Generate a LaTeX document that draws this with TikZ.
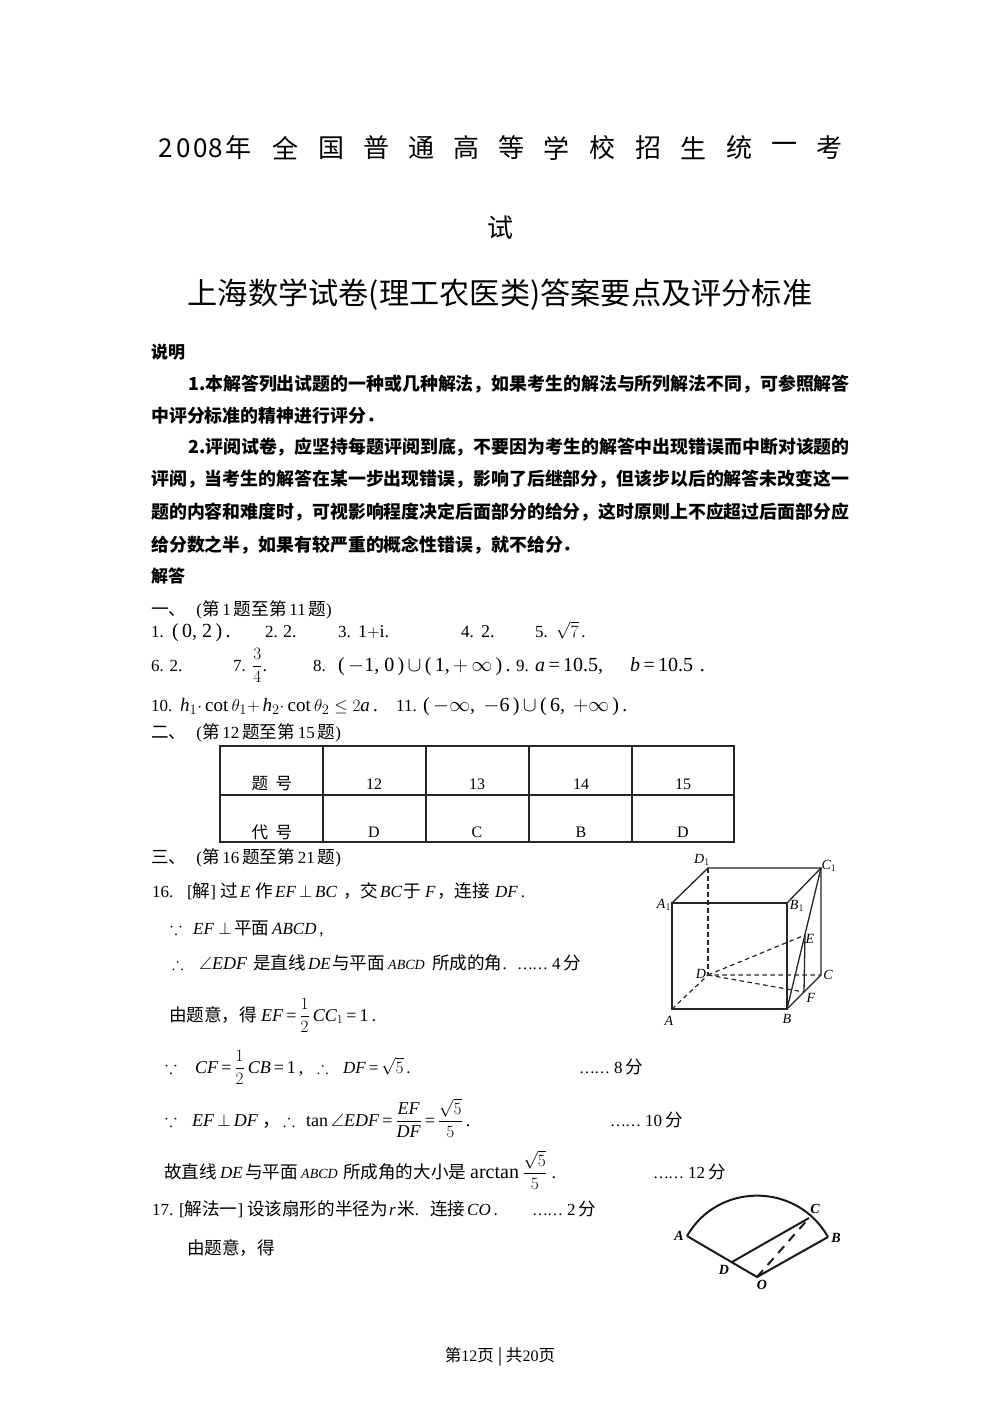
\documentclass[tikz,border=0pt]{standalone}
\usepackage{amsmath,amssymb}
\usepackage{fontspec}
\setmainfont{Liberation Serif}
\newfontfamily\cjk{Noto Sans CJK SC}
\newfontfamily\cjkbody[Scale=1.035]{Noto Sans CJK SC}
\usetikzlibrary{calc,positioning}
\newcommand{\zh}[1]{{\cjkbody #1}}
\newcommand{\mi}[1]{\textit{#1}}
\newcommand{\szb}{\fontsize{18}{20}\selectfont}
\newcommand{\szc}{\fontsize{20}{22}\selectfont}
\newcommand{\dotsfen}[1]{{\fontsize{16}{18}\selectfont \ldots\kern-1pt\ldots\ }#1\,\zh{分}}
\tikzset{
  line/.style={anchor=base west,inner sep=0pt,font=\fontsize{17}{19}\selectfont},
  boldline/.style={anchor=base west,inner sep=0pt,font=\fontsize{17.9}{20}\selectfont\cjk\bfseries},
  ttl/.style={inner sep=0pt,font=\fontsize{26}{28}\selectfont\cjk},
  cell/.style={inner sep=0pt,font=\fontsize{16}{18}\selectfont},
  pt/.style={inner sep=0pt,font=\fontsize{14}{16}\selectfont\itshape},
  spt/.style={inner sep=0pt,font=\fontsize{14}{16}\selectfont\itshape\bfseries},
  edge/.style={line width=1.3pt,black!85},
  hid/.style={line width=1.2pt,black!85,dash pattern=on 4.5pt off 3.5pt},
  rim/.style={line width=1.3pt,black!85},
  arcline/.style={line width=2pt,black!90},
}
\begin{document}
\begin{tikzpicture}[x=1pt,y=-1pt]
    \useasboundingbox (0,0) rectangle (1000,1414);
    \fill[white] (0,0) rectangle (1000,1414);

    % first title, spread over the line
    \foreach \x/\t in {166/2,184/0,201/0,216/8,238/年,285/全,331/国,376/普,421/通,466/高,511/等,556/学,602/校,648/招,693/生,739/统,784/一,829/考} {
        \node[ttl] (head\x) at (\x,148) {\t};
    }
    \node[ttl] (headend) at (500,228) {试};
    \node[ttl,font=\fontsize{30.2}{33}\selectfont\cjk] (title) at (500,295) {上海数学试卷(理工农医类)答案要点及评分标准};

    % notes
    \node[boldline,font=\fontsize{17}{19}\selectfont\cjk\bfseries] (notes) at (151,358) {说明};
    \foreach \x/\y/\t in {
        188/390/{1.本解答列出试题的一种或几种解法，如果考生的解法与所列解法不同，可参照解答},
        151/422/{中评分标准的精神进行评分．},
        188/453/{2.评阅试卷，应坚持每题评阅到底，不要因为考生的解答中出现错误而中断对该题的},
        151/485/{评阅，当考生的解答在某一步出现错误，影响了后继部分，但该步以后的解答未改变这一},
        151/518/{题的内容和难度时，可视影响程度决定后面部分的给分，这时原则上不应超过后面部分应},
        151/551/{给分数之半，如果有较严重的概念性错误，就不给分．}} {
        \node[boldline] at (\x,\y) {\t};
    }
    \node[boldline,font=\fontsize{17}{19}\selectfont\cjk\bfseries] (answers) at (151,582) {解答};

    % fill in the blanks
    \node[line] (partone) at (151,615) {\zh{一、}\hspace{10pt}(\zh{第}\,1\,\zh{题至第}\,11\,\zh{题})};
    \foreach \x/\y/\t in {
        151/637/{1.}, 172/637/{\szc(\,0, 2\,)\,.}, 265/637/{2.}, 283/637/{\szb 2.},
        338/637/{3.}, 358/637/{\szb 1$+$i.}, 461/637/{4.}, 481/637/{\szb 2.},
        535/637/{5.}, 556/637/{$\sqrt{7}$\,.},
        151/671/{6. 2.}, 233/671/{7.}, 252/671/{\szb$\dfrac{3}{4}$.}, 313/671/{8.},
        338/671/{\szc(\,$-$1, 0\,)\,$\cup$\,(\,1,\,$+\,\infty$\,)\,.},
        516/671/{9.}, 535/671/{\szc\mi{a}\,=\,10.5,}, 630/671/{\szc\mi{b}\,=\,10.5\,\,.},
        151/711/{10.}, 180/711/{\fontsize{19}{21}\selectfont\mi{h}$_1\cdot$\,cot\,$\theta_1+$\,\mi{h}$_2\cdot$\,cot\,$\theta_2\le 2$\mi{a}\,.},
        396/711/{11.}, 423/711/{\szc(\,$-\infty$,\, $-$6\,)\,$\cup$\,(\,6,\, $+\infty$\,)\,.}} {
        \node[line] at (\x,\y) {\t};
    }
    \node[line] (parttwo) at (151,738) {\zh{二、}\hspace{10pt}(\zh{第}\,12\,\zh{题至第}\,15\,\zh{题})};

    % table of choices
    \draw[rim] (220,746) rectangle (734,842);
    \draw[rim] (220,795) -- (734,795);
    \foreach \x in {323,426,529,632} {
        \draw[rim] (\x,746) -- (\x,842);
    }
    \node[cell] (rowa) at (272,784) {\zh{题\ \ 号}};
    \node[cell] (rowb) at (272,832) {\zh{代\ \ 号}};
    \foreach \x/\a/\b in {374/12/D,477/13/C,581/14/B,683/15/D} {
        \node[cell] at (\x,784) {\a};
        \node[cell] at (\x,832) {\b};
    }
    \node[line] (partthree) at (151,863) {\zh{三、}\hspace{10pt}(\zh{第}\,16\,\zh{题至第}\,21\,\zh{题})};

    % question 16
    \foreach \x/\y/\t in {
        152/897/{16.}, 187/897/{[\zh{解}]}, 220/897/{\zh{过}}, 240/897/{\mi{E}}, 255/897/{\zh{作}},
        275/897/{\mi{EF}\,$\perp$\,\mi{BC}}, 343/897/{\zh{，交}}, 380/897/{\mi{BC}}, 403/897/{\zh{于}},
        425/897/{\mi{F}}, 437/897/{\zh{，连接}}, 495/897/{\mi{DF}\,.},
        170/934/{\szb$\because$}, 193/934/{\mi{EF}\ $\perp$}, 234/934/{\zh{平面}}, 272/934/{\mi{ABCD}\,,},
        172/969/{$\therefore$}, 199/969/{\szb$\angle$\mi{EDF}}, 253/969/{\zh{是直线}}, 308/969/{\mi{DE}},
        332/969/{\zh{与平面}}, 388/969/{\fontsize{14}{16}\selectfont\mi{ABCD}}, 432/969/{\zh{所成的角}.}, 517/969/{\dotsfen{4}},
        169/1021/{\zh{由题意，得}}, 261/1021/{\szb\mi{EF}\,=\,$\dfrac{1}{2}$\,\mi{CC}$_1$\,=\,1\,.},
        165/1073/{\szb$\because$}, 195/1073/{\szb\mi{CF}\,=\,$\dfrac{1}{2}$\,\mi{CB}\,=\,1\,,}, 317/1073/{$\therefore$}, 343/1073/{\mi{DF}\,=\,$\sqrt{5}$\,.}, 579/1073/{\dotsfen{8}},
        165/1126/{\szb$\because$}, 192/1126/{\szb\mi{EF}\,$\perp$\,\mi{DF}\ \zh{，}}, 283/1126/{\szb$\therefore$}, 306/1126/{\szb tan\,$\angle$\mi{EDF}\,=\,$\dfrac{\mi{EF}}{\mi{DF}}$\,=\,$\dfrac{\sqrt{5}}{5}$\,.}, 610/1126/{\dotsfen{10}},
        164/1178/{\zh{故直线}}, 220/1178/{\mi{DE}}, 245/1178/{\zh{与平面}}, 301/1178/{\fontsize{14}{16}\selectfont\mi{ABCD}},
        343/1178/{\zh{所成角的大小是}}, 470/1178/{\szc arctan\,\szb$\dfrac{\sqrt{5}}{5}$\ .}, 653/1178/{\dotsfen{12}},
        152/1215/{17. [\zh{解法一}]}, 247/1215/{\zh{设该扇形的半径为}}, 389/1215/{\mi{r}}, 397/1215/{\zh{米}.}, 430/1215/{\zh{连接}}, 467/1215/{\mi{CO}\,.}, 532/1215/{\dotsfen{2}},
        187/1254/{\zh{由题意，得}}} {
        \node[line] at (\x,\y) {\t};
    }

    % the cube
    \coordinate (A) at (672,1009);
    \coordinate (B) at (787,1009);
    \coordinate (C) at (821,975);
    \coordinate (D) at (708,975);
    \coordinate (A1) at (672,903);
    \coordinate (B1) at (787,903);
    \coordinate (C1) at (821,868);
    \coordinate (D1) at (708,868);
    \coordinate (E) at (805,935);
    \coordinate (F) at (804,992);
    \draw[edge] (A1) -- (B1) -- (B) -- (A) -- cycle;
    \draw[edge] (A1) -- (D1) -- (C1) -- (B1);
    \draw[edge] (C1) -- (C) -- (B);
    \draw[edge] (B) -- (C1);
    \draw[edge] (E) -- (F);
    \draw[hid] (D1) -- (D);
    \draw[hid] (A) -- (D) -- (C);
    \draw[hid] (D) -- (E);
    \draw[hid] (D) -- (F);
    \node[pt] (lA) at (669,1021) {A};
    \node[pt] (lB) at (787,1019) {B};
    \node[pt] (lC) at (828,975) {C};
    \node[pt] (lD) at (701,974) {D};
    \node[pt] (lE) at (810,939) {E};
    \node[pt] (lF) at (811,998) {F};
    \node[pt] (lAa) at (664,905) {A$_1$};
    \node[pt] (lBa) at (797,906) {B$_1$};
    \node[pt] (lCa) at (829,866) {C$_1$};
    \node[pt] (lDa) at (702,860) {D$_1$};

    % the sector
    \coordinate (sA) at (687,1236);
    \coordinate (sB) at (828,1237);
    \coordinate (sC) at (809,1218);
    \coordinate (sD) at (732,1262);
    \coordinate (sO) at (757,1277);
    \draw[arcline] (sA) .. controls (718,1182) and (797,1182) .. (sB);
    \draw[arcline] (sA) -- (sO) -- (sB);
    \draw[arcline] (sD) -- (sC);
    \draw[arcline,dash pattern=on 9pt off 7pt] (sO) -- (sC);
    \node[spt] (lsA) at (679,1236) {A};
    \node[spt] (lsB) at (836,1238) {B};
    \node[spt] (lsC) at (815,1209) {C};
    \node[spt] (lsD) at (724,1270) {D};
    \node[spt] (lsO) at (762,1285) {O};

    % page foot
    \node[cell] (foot) at (500,1357) {\zh{第}12\zh{页 | 共}20\zh{页}};
\end{tikzpicture}
\end{document}
